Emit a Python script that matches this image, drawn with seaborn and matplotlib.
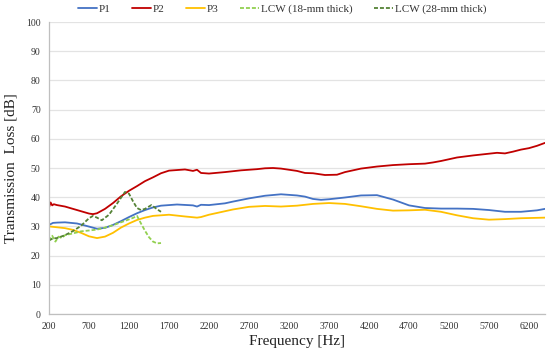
import matplotlib
matplotlib.use("Agg")
import matplotlib.pyplot as plt
import seaborn as sns
import pandas as pd

# frequency [Hz] / transmission loss [dB]
p1_freq = [200, 250, 300, 400, 550, 650, 800, 900, 1000, 1100, 1200, 1300, 1400, 1500, 1600,
           1800, 2000, 2050, 2100, 2200, 2400, 2500, 2700, 2900, 3100, 3300, 3400, 3500, 3600,
           3700, 3900, 4100, 4300, 4500, 4700, 4900, 5100, 5300, 5500, 5700, 5900, 6100, 6300, 6400]
p1_tl = [30.5, 31.2, 31.3, 31.4, 31.0, 30.3, 29.2, 29.5, 30.5, 31.8, 33.2, 34.5, 35.6, 36.5, 37.1,
         37.5, 37.2, 36.8, 37.4, 37.3, 37.9, 38.5, 39.6, 40.5, 41.0, 40.6, 40.2, 39.4, 39.1,
         39.3, 39.9, 40.6, 40.7, 39.2, 37.2, 36.3, 36.1, 36.1, 36.0, 35.6, 35.0, 35.0, 35.5, 36.0]

p2_freq = [200, 220, 240, 260, 300, 400, 500, 600, 700, 750, 800, 900, 1000, 1100, 1200, 1300,
           1400, 1500, 1600, 1700, 1800, 1900, 2000, 2050, 2100, 2200, 2400, 2600, 2800, 2900,
           3000, 3100, 3300, 3400, 3500, 3650, 3800, 3900, 4100, 4300, 4500, 4700, 4900, 5000,
           5100, 5300, 5500, 5700, 5800, 5900, 6000, 6100, 6200, 6300, 6400]
p2_tl = [36.5, 38.2, 37.2, 37.6, 37.3, 36.8, 36.0, 35.2, 34.4, 34.2, 34.5, 36.0, 38.0, 40.3, 42.2, 43.8,
         45.5, 46.8, 48.2, 49.1, 49.3, 49.5, 49.0, 49.4, 48.3, 48.1, 48.6, 49.2, 49.6, 49.9,
         50.0, 49.8, 49.0, 48.3, 48.2, 47.6, 47.7, 48.6, 49.8, 50.5, 51.0, 51.3, 51.5, 51.9,
         52.4, 53.6, 54.3, 54.9, 55.2, 55.0, 55.6, 56.3, 56.8, 57.6, 58.6]

p3_freq = [200, 300, 400, 500, 600, 700, 800, 900, 1000, 1100, 1200, 1300, 1400, 1500, 1700,
           1900, 2050, 2100, 2200, 2300, 2500, 2700, 2900, 3100, 3300, 3500, 3700, 3900, 4100,
           4300, 4500, 4700, 4900, 5100, 5300, 5500, 5700, 5900, 6100, 6400]
p3_tl = [30.0, 29.7, 29.4, 28.8, 27.8, 26.6, 26.0, 26.5, 27.8, 29.6, 31.0, 32.2, 33.0, 33.6, 34.0,
         33.4, 33.0, 33.2, 34.0, 34.6, 35.8, 36.7, 37.0, 36.8, 37.1, 37.7, 38.0, 37.7, 36.9,
         36.0, 35.4, 35.5, 35.7, 35.0, 33.8, 32.8, 32.3, 32.5, 32.8, 33.0]

lcw18_freq = [200, 240, 280, 320, 360, 400, 500, 600, 700, 800, 900, 1000, 1100, 1200, 1250,
              1300, 1350, 1400, 1450, 1500, 1550, 1600]
lcw18_tl = [25.0, 26.8, 24.8, 26.5, 26.0, 27.0, 27.6, 28.3, 28.6, 28.9, 29.6, 30.4, 31.4, 32.4, 32.9,
            33.6, 31.0, 28.5, 26.3, 24.8, 24.2, 24.3]

lcw28_freq = [200, 250, 300, 400, 500, 600, 700, 750, 800, 860, 950, 1050, 1150, 1200, 1250,
              1300, 1350, 1400, 1480, 1550, 1600]
lcw28_tl = [25.2, 25.9, 26.0, 27.0, 28.4, 30.2, 32.8, 33.6, 33.0, 32.1, 34.0, 37.8, 41.8, 41.2, 38.6,
            36.3, 35.6, 36.0, 37.3, 35.9, 35.0]

series_names = ["P1", "P2", "P3", "LCW (18-mm thick)", "LCW (28-mm thick)"]
series_freq = [p1_freq, p2_freq, p3_freq, lcw18_freq, lcw28_freq]
series_tl = [p1_tl, p2_tl, p3_tl, lcw18_tl, lcw28_tl]
colors = ["#4472C4", "#C00000", "#FFC000", "#92D050", "#548235"]
x_ticks = list(range(200, 6201, 500))

frames = []
for name, f, tl in zip(series_names, series_freq, series_tl):
    frames.append(pd.DataFrame({"freq": f, "tl": tl, "series": name}))
df = pd.concat(frames, ignore_index=True)

sns.set_style("white")
plt.rcParams["font.family"] = ["Liberation Serif", "DejaVu Serif"]

fig = plt.figure(figsize=(5.5, 3.56), dpi=100)
ax = fig.add_axes([49 / 550, 1 - 314 / 356, 496 / 550, 292 / 356])

sns.lineplot(data=df, x="freq", y="tl", hue="series", style="series",
             hue_order=series_names, style_order=series_names,
             palette=dict(zip(series_names, colors)),
             dashes={"P1": "", "P2": "", "P3": "",
                     "LCW (18-mm thick)": (2.2, 1.1), "LCW (28-mm thick)": (2.2, 1.1)},
             estimator=None, sort=True, linewidth=1.3, ax=ax)

ax.set_xlim(200, 6400)
ax.set_ylim(0, 100)
ax.set_xticks(x_ticks)
ax.set_yticks(range(0, 101, 10))
ax.tick_params(axis="both", labelsize=7, length=0, colors="#333333", pad=6)
ax.yaxis.grid(True, color="#e3e3e3", linewidth=0.9)
ax.xaxis.grid(False)
for side in ["top", "right"]:
    ax.spines[side].set_visible(False)
for side in ["left", "bottom"]:
    ax.spines[side].set_color("#bfbfbf")
    ax.spines[side].set_linewidth(0.9)

ax.set_xlabel("Frequency [Hz]", fontsize=11, color="#222222", labelpad=3)
ax.set_ylabel("Transmission  Loss [dB]", fontsize=11, color="#222222", labelpad=6)

leg = ax.legend(loc="lower center", bbox_to_anchor=(0.47, 1.0), ncol=5, frameon=False,
                fontsize=8, handlelength=1.7, handletextpad=0.2, columnspacing=1.9,
                borderaxespad=0.3)
for t in leg.get_texts():
    t.set_color("#333333")

fig.savefig("out.png", dpi=100)
